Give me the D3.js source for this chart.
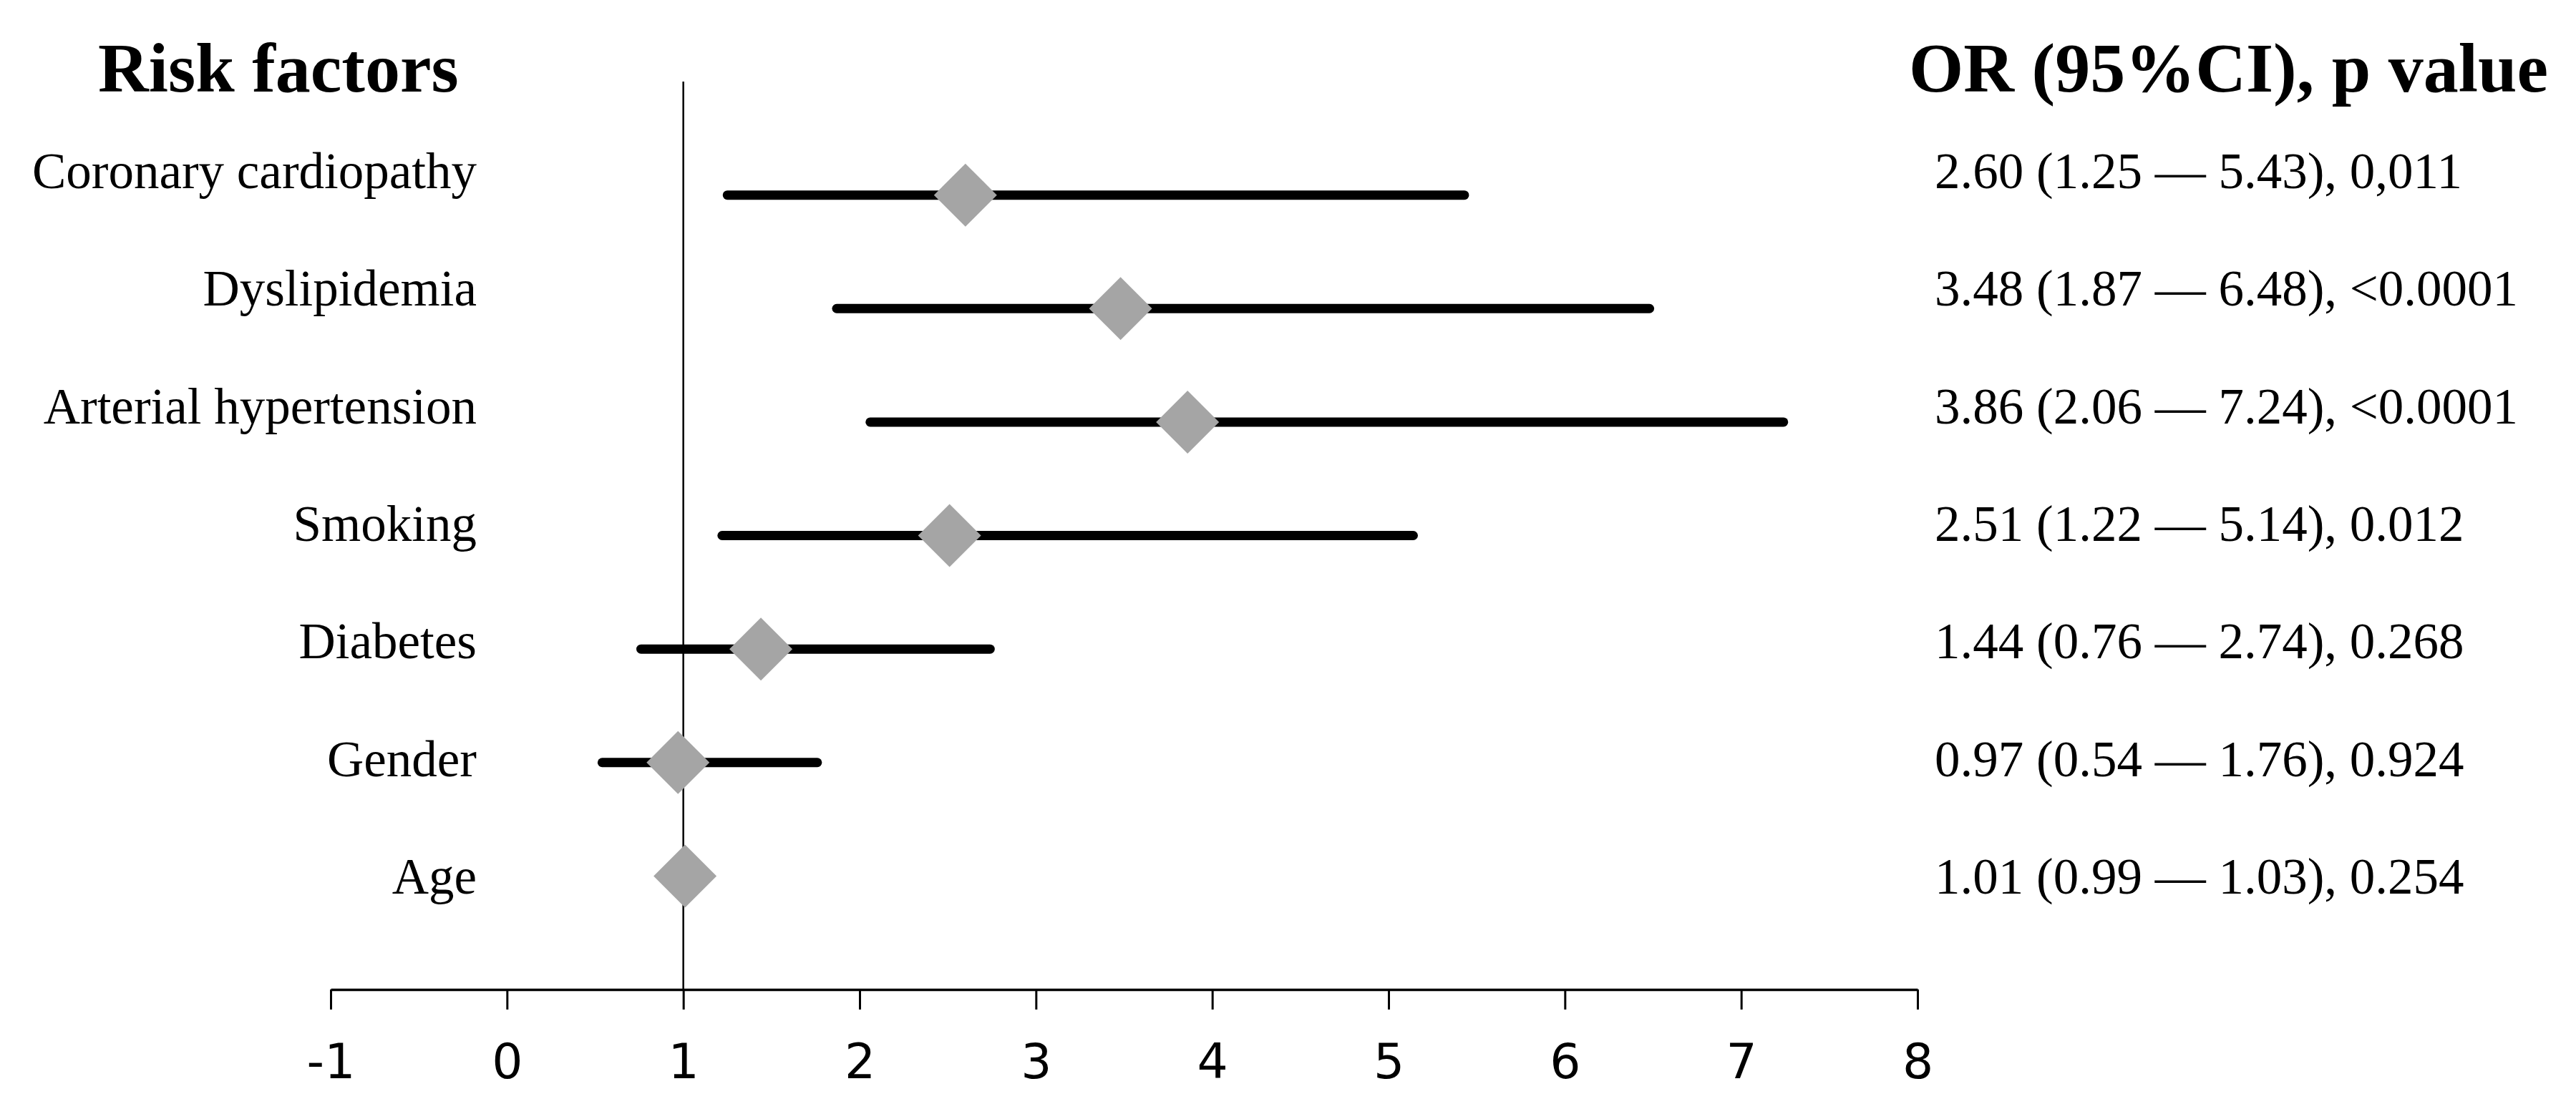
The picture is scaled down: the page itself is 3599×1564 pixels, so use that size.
<!DOCTYPE html>
<html>
<head>
<meta charset="utf-8">
<script src="https://cdn.jsdelivr.net/npm/d3@7"></script>
<style>
  html, body { margin: 0; padding: 0; background: #fff; }
  svg { display: block; }
</style>
</head>
<body>
<svg id="chart" width="3599" height="1564"></svg>
<script>
// ---- data ----
const factors = ["Coronary cardiopathy", "Dyslipidemia", "Arterial hypertension", "Smoking", "Diabetes", "Gender", "Age"];
const orValues = [2.60, 3.48, 3.86, 2.51, 1.44, 0.97, 1.01];
const ciLower = [1.25, 1.87, 2.06, 1.22, 0.76, 0.54, 0.99];
const ciUpper = [5.43, 6.48, 7.24, 5.14, 2.74, 1.76, 1.03];
const pValues = ["0,011", "<0.0001", "<0.0001", "0.012", "0.268", "0.924", "0.254"];
const orLabels = ["2.60 (1.25 \u2014 5.43)", "3.48 (1.87 \u2014 6.48)", "3.86 (2.06 \u2014 7.24)", "2.51 (1.22 \u2014 5.14)", "1.44 (0.76 \u2014 2.74)", "0.97 (0.54 \u2014 1.76)", "1.01 (0.99 \u2014 1.03)"];
const xTicks = [-1, 0, 1, 2, 3, 4, 5, 6, 7, 8];
const xTickLabels = ["-1", "0", "1", "2", "3", "4", "5", "6", "7", "8"];
const leftHeader = "Risk factors";
const rightHeader = "OR (95%CI), p value";

// ---- layout ----
const svg = d3.select("#chart");
const x = d3.scaleLinear().domain([-1, 8]).range([462, 2679]);
// rows placed at positions 7..1 (top to bottom), axis at 0
const y = d3.scaleLinear().domain([0, 8]).range([1383, 114]);
const rowPos = d => factors.length - factors.indexOf(d);
// text column rows
const textY = d3.scalePoint().domain(factors).range([263, 1249]);

// reference line at 1
svg.append("line")
  .attr("x1", x(1)).attr("x2", x(1))
  .attr("y1", y(8)).attr("y2", y(0))
  .attr("stroke", "#000").attr("stroke-width", 2.5);

// x axis
const axis = d3.axisBottom(x).tickValues(xTicks).tickSize(28).tickSizeOuter(0)
  .tickFormat((d, i) => xTickLabels[i]);
const gx = svg.append("g").attr("transform", `translate(0,${y(0)})`).call(axis);
gx.select(".domain").attr("stroke", "#000").attr("stroke-width", 3.5);
gx.selectAll(".tick line").attr("stroke", "#000").attr("stroke-width", 3);
gx.selectAll(".tick text")
  .attr("y", 124).attr("dy", null)
  .attr("fill", "#000")
  .style("font-family", "'DejaVu Sans', sans-serif")
  .style("font-size", "68px");

// CI lines
svg.append("g").selectAll("line.ci")
  .data(factors)
  .join("line")
  .attr("class", "ci")
  .attr("x1", (d, i) => x(ciLower[i]))
  .attr("x2", (d, i) => x(ciUpper[i]))
  .attr("y1", d => y(rowPos(d)))
  .attr("y2", d => y(rowPos(d)))
  .attr("stroke", "#000")
  .attr("stroke-width", 13)
  .attr("stroke-linecap", "round");

// diamonds
const half = 44;
svg.append("g").selectAll("path.diamond")
  .data(factors)
  .join("path")
  .attr("class", "diamond")
  .attr("d", (d, i) => {
    const cx = x(orValues[i]), cy = y(rowPos(d));
    return `M${cx},${cy - half}L${cx + half},${cy}L${cx},${cy + half}L${cx - half},${cy}Z`;
  })
  .attr("fill", "#a5a5a5");

// left labels
svg.append("g").selectAll("text")
  .data(factors)
  .join("text")
  .attr("x", 666)
  .attr("y", d => textY(d))
  .attr("text-anchor", "end")
  .style("font-family", "'Liberation Serif', 'Times New Roman', serif")
  .style("font-size", "71px")
  .attr("fill", "#000")
  .text(d => d);

// right labels
svg.append("g").selectAll("text")
  .data(factors)
  .join("text")
  .attr("x", 2703)
  .attr("y", d => textY(d))
  .attr("text-anchor", "start")
  .style("font-family", "'Liberation Serif', 'Times New Roman', serif")
  .style("font-size", "71px")
  .attr("fill", "#000")
  .text((d, i) => `${orLabels[i]}, ${pValues[i]}`);

// headers
svg.append("text")
  .attr("x", 137).attr("y", 128)
  .style("font-family", "'Liberation Serif', 'Times New Roman', serif")
  .style("font-size", "98px").style("font-weight", "bold")
  .attr("fill", "#000")
  .text(leftHeader);
svg.append("text")
  .attr("x", 2667).attr("y", 128)
  .style("font-family", "'Liberation Serif', 'Times New Roman', serif")
  .style("font-size", "98px").style("font-weight", "bold")
  .attr("fill", "#000")
  .text(rightHeader);
</script>
</body>
</html>
